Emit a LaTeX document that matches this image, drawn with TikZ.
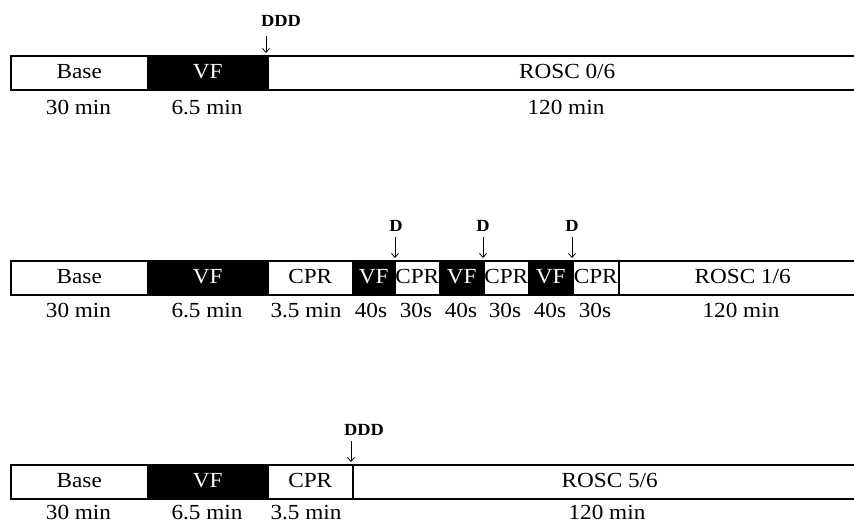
\documentclass[tikz,border=0pt]{standalone}
\usepackage{fontspec}
\setmainfont[FakeStretch=1.08]{Liberation Serif}
\usetikzlibrary{arrows.meta}
\begin{document}
\begin{tikzpicture}[x=1pt,y=-1pt,
  seg/.style={draw=black, line width=1.5pt, minimum height=34pt, inner sep=0pt,
    text height=14pt, text depth=3pt, font=\fontsize{21.5}{24}\selectfont, anchor=west},
  wseg/.style={seg, fill=white, text=black},
  bseg/.style={seg, fill=black, text=white},
  dur/.style={font=\fontsize{21.5}{24}\selectfont, inner sep=0pt, anchor=base},
  shock/.style={font=\fontsize{17}{20}\selectfont\bfseries, inner sep=0pt, anchor=base},
  sarrow/.style={line width=0.8pt, -{Straight Barb[length=4pt,width=7pt]}}
]
\useasboundingbox (0,0) rectangle (854,523);

% ---------- Row 1 ----------
\node[wseg, minimum width=137pt] (r1base) at (10,73) {Base};
\node[bseg, minimum width=120pt] (r1vf) at (147,73) {VF};
\node[wseg, minimum width=599pt] (r1rosc) at (267,73) {ROSC 0/6};
\node[dur] (r1t1) at (78.5,114) {30 min};
\node[dur] (r1t2) at (207,114) {6.5 min};
\node[dur] (r1t3) at (566,114) {120 min};
\node[shock] (r1d) at (281,26) {DDD};
\coordinate (r1as) at (266,36);
\coordinate (r1ae) at (266,53);
\draw[sarrow] (r1as) -- (r1ae);

% ---------- Row 2 ----------
\node[wseg, minimum width=137pt] (r2base) at (10,278) {Base};
\node[bseg, minimum width=120pt] (r2vf) at (147,278) {VF};
\node[wseg, minimum width=85pt] (r2cpr) at (267,278) {CPR};
\node[bseg, minimum width=42pt] (r2vfa) at (352,278) {VF};
\node[wseg, minimum width=45pt] (r2cpra) at (394,278) {CPR};
\node[bseg, minimum width=44pt] (r2vfb) at (439,278) {VF};
\node[wseg, minimum width=45pt] (r2cprb) at (483,278) {CPR};
\node[bseg, minimum width=44pt] (r2vfc) at (528,278) {VF};
\node[wseg, minimum width=46pt] (r2cprc) at (572,278) {CPR};
\node[wseg, minimum width=248pt] (r2rosc) at (618,278) {ROSC 1/6};
\node[dur] (r2t1) at (78.5,317) {30 min};
\node[dur] (r2t2) at (207,317) {6.5 min};
\node[dur] (r2t3) at (306,317) {3.5 min};
\node[dur] (r2t4) at (371,317) {40s};
\node[dur] (r2t5) at (416,317) {30s};
\node[dur] (r2t6) at (461,317) {40s};
\node[dur] (r2t7) at (505,317) {30s};
\node[dur] (r2t8) at (550,317) {40s};
\node[dur] (r2t9) at (595,317) {30s};
\node[dur] (r2t10) at (741,317) {120 min};
\node[shock] (r2da) at (396,231) {D};
\node[shock] (r2db) at (483,231) {D};
\node[shock] (r2dc) at (572,231) {D};
\coordinate (r2aas) at (395,237);
\coordinate (r2aae) at (395,258);
\coordinate (r2abs) at (483,237);
\coordinate (r2abe) at (483,258);
\coordinate (r2acs) at (572,237);
\coordinate (r2ace) at (572,258);
\draw[sarrow] (r2aas) -- (r2aae);
\draw[sarrow] (r2abs) -- (r2abe);
\draw[sarrow] (r2acs) -- (r2ace);

% ---------- Row 3 ----------
\node[wseg, minimum width=137pt] (r3base) at (10,482) {Base};
\node[bseg, minimum width=120pt] (r3vf) at (147,482) {VF};
\node[wseg, minimum width=85pt] (r3cpr) at (267,482) {CPR};
\node[wseg, minimum width=514pt] (r3rosc) at (352,482) {ROSC 5/6};
\node[dur] (r3t1) at (78.5,519) {30 min};
\node[dur] (r3t2) at (207,519) {6.5 min};
\node[dur] (r3t3) at (306,519) {3.5 min};
\node[dur] (r3t4) at (607,519) {120 min};
\node[shock] (r3d) at (364,435) {DDD};
\coordinate (r3as) at (351,441);
\coordinate (r3ae) at (351,462);
\draw[sarrow] (r3as) -- (r3ae);
\end{tikzpicture}
\end{document}
